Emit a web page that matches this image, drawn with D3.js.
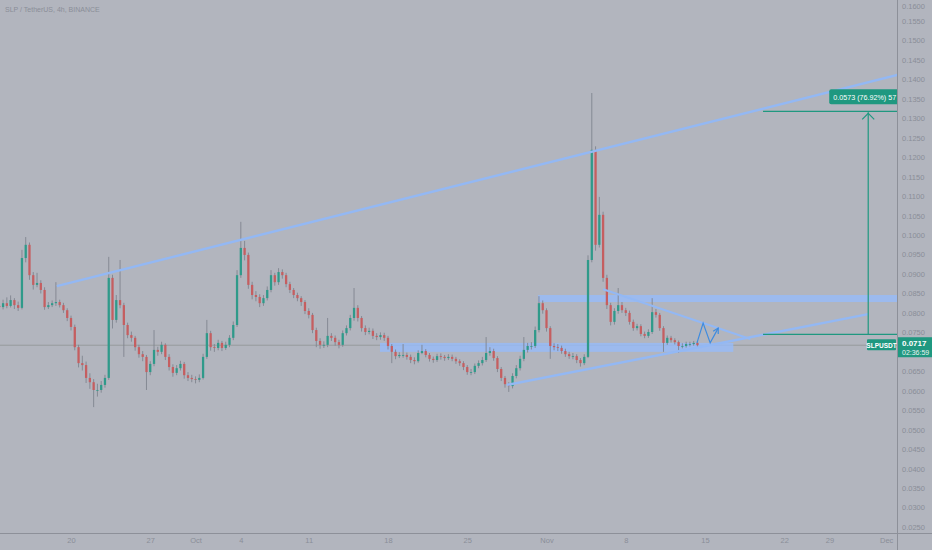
<!DOCTYPE html>
<html><head><meta charset="utf-8">
<script src="https://cdn.jsdelivr.net/npm/d3@7"></script>
<style>
html,body{margin:0;padding:0;background:#b2b5be;overflow:hidden;}
svg{display:block;font-family:"Liberation Sans",Arial,sans-serif;}
</style>
</head><body>
<svg id="chart" width="932" height="550"></svg>
<script>
// ---------- DATA ----------
const title = "SLP / TetherUS, 4h, BINANCE";
const symbol = "SLPUSDT";
const startTime = "2021-09-13T16:00:00Z";
const barHours = 8;

const opens = [0.0818,0.0815,0.0825,0.0818,0.0833,0.0820,0.0813,0.0941,0.0975,0.0897,
0.0872,0.0877,0.0859,0.0815,0.0820,0.0825,0.0828,0.0820,0.0807,0.0787,
0.0764,0.0712,0.0671,0.0666,0.0633,0.0622,0.0602,0.0602,0.0615,0.0633,
0.0890,0.0782,0.0833,0.0820,0.0769,0.0743,0.0736,0.0712,0.0694,0.0687,
0.0648,0.0669,0.0705,0.0700,0.0718,0.0687,0.0661,0.0646,0.0658,0.0669,
0.0640,0.0633,0.0630,0.0628,0.0633,0.0687,0.0748,0.0712,0.0710,0.0723,
0.0710,0.0718,0.0736,0.0769,0.0897,0.0967,0.0949,0.0872,0.0846,0.0841,
0.0825,0.0838,0.0859,0.0897,0.0879,0.0905,0.0897,0.0874,0.0859,0.0846,
0.0838,0.0828,0.0805,0.0795,0.0756,0.0728,0.0718,0.0718,0.0741,0.0736,
0.0725,0.0718,0.0748,0.0761,0.0787,0.0813,0.0787,0.0761,0.0751,0.0754,
0.0741,0.0738,0.0743,0.0736,0.0715,0.0700,0.0689,0.0692,0.0692,0.0687,
0.0679,0.0676,0.0697,0.0702,0.0692,0.0682,0.0679,0.0689,0.0687,0.0684,
0.0687,0.0682,0.0676,0.0671,0.0661,0.0648,0.0648,0.0664,0.0671,0.0679,
0.0697,0.0702,0.0684,0.0656,0.0633,0.0617,0.0612,0.0638,0.0658,0.0682,
0.0705,0.0715,0.0715,0.0756,0.0825,0.0807,0.0761,0.0715,0.0712,0.0710,
0.0702,0.0694,0.0689,0.0689,0.0679,0.0671,0.0687,0.0936,0.1219,0.0975,
0.1052,0.0890,0.0820,0.0777,0.0805,0.0820,0.0807,0.0800,0.0777,0.0761,
0.0766,0.0746,0.0741,0.0751,0.0802,0.0795,0.0761,0.0723,0.0736,0.0730,
0.0725,0.0715,0.0715,0.0720,0.0720,0.0723];

const highs = [0.0826,0.0834,0.0840,0.0845,0.0838,0.0829,0.0962,0.0995,0.0981,0.0905,
0.0903,0.0884,0.0866,0.0828,0.0832,0.0879,0.0834,0.0826,0.0812,0.0793,
0.0770,0.0718,0.0690,0.0675,0.0645,0.0630,0.0618,0.0625,0.0641,0.0944,
0.0898,0.0846,0.0936,0.0826,0.0775,0.0752,0.0741,0.0718,0.0702,0.0692,
0.0676,0.0756,0.0713,0.0726,0.0722,0.0694,0.0668,0.0666,0.0677,0.0674,
0.0648,0.0641,0.0637,0.0642,0.0695,0.0782,0.0754,0.0720,0.0731,0.0728,
0.0726,0.0743,0.0778,0.0910,0.1034,0.0985,0.0955,0.0880,0.0856,0.0848,
0.0846,0.0868,0.0910,0.0903,0.0915,0.0912,0.0903,0.0880,0.0864,0.0852,
0.0843,0.0833,0.0812,0.0800,0.0762,0.0735,0.0727,0.0787,0.0748,0.0742,
0.0731,0.0755,0.0768,0.0795,0.0864,0.0820,0.0792,0.0768,0.0762,0.0760,
0.0748,0.0750,0.0749,0.0741,0.0720,0.0706,0.0699,0.0720,0.0698,0.0693,
0.0686,0.0704,0.0718,0.0707,0.0697,0.0688,0.0695,0.0696,0.0692,0.0694,
0.0693,0.0687,0.0681,0.0676,0.0666,0.0656,0.0670,0.0678,0.0687,0.0738,
0.0712,0.0708,0.0689,0.0661,0.0638,0.0622,0.0645,0.0666,0.0690,0.0738,
0.0723,0.0725,0.0765,0.0843,0.0832,0.0812,0.0766,0.0722,0.0720,0.0716,
0.0708,0.0700,0.0697,0.0694,0.0684,0.0694,0.0948,0.1365,0.1228,0.1098,
0.1060,0.0898,0.0826,0.0812,0.0864,0.0828,0.0813,0.0806,0.0783,0.0772,
0.0771,0.0752,0.0758,0.0838,0.0810,0.0800,0.0766,0.0742,0.0741,0.0735,
0.0729,0.0722,0.0726,0.0726,0.0728,0.0727];

const lows = [0.0806,0.0809,0.0812,0.0814,0.0810,0.0805,0.0809,0.0930,0.0885,0.0860,
0.0866,0.0850,0.0808,0.0810,0.0815,0.0818,0.0814,0.0800,0.0779,0.0755,
0.0704,0.0660,0.0652,0.0620,0.0605,0.0558,0.0585,0.0595,0.0608,0.0628,
0.0760,0.0775,0.0812,0.0687,0.0735,0.0726,0.0703,0.0685,0.0676,0.0602,
0.0640,0.0663,0.0690,0.0694,0.0679,0.0652,0.0636,0.0640,0.0652,0.0631,
0.0625,0.0622,0.0619,0.0622,0.0629,0.0682,0.0703,0.0700,0.0704,0.0702,
0.0705,0.0712,0.0730,0.0764,0.0890,0.0935,0.0862,0.0835,0.0830,0.0815,
0.0818,0.0832,0.0853,0.0870,0.0872,0.0888,0.0866,0.0851,0.0838,0.0830,
0.0818,0.0797,0.0786,0.0748,0.0712,0.0708,0.0710,0.0712,0.0728,0.0716,
0.0709,0.0713,0.0742,0.0755,0.0780,0.0778,0.0752,0.0743,0.0745,0.0733,
0.0730,0.0731,0.0728,0.0706,0.0671,0.0681,0.0684,0.0685,0.0680,0.0671,
0.0668,0.0672,0.0694,0.0686,0.0675,0.0672,0.0674,0.0680,0.0677,0.0679,
0.0676,0.0669,0.0664,0.0653,0.0641,0.0640,0.0643,0.0658,0.0665,0.0674,
0.0690,0.0677,0.0648,0.0625,0.0608,0.0597,0.0606,0.0632,0.0652,0.0676,
0.0698,0.0706,0.0710,0.0750,0.0798,0.0752,0.0682,0.0704,0.0702,0.0695,
0.0687,0.0682,0.0681,0.0671,0.0662,0.0666,0.0684,0.0930,0.0960,0.0968,
0.0880,0.0810,0.0768,0.0770,0.0798,0.0800,0.0792,0.0770,0.0754,0.0755,
0.0740,0.0735,0.0736,0.0746,0.0788,0.0754,0.0700,0.0718,0.0724,0.0719,
0.0697,0.0709,0.0711,0.0714,0.0716,0.0712];

const closes = [0.0815,0.0825,0.0818,0.0833,0.0820,0.0813,0.0941,0.0975,0.0897,0.0872,
0.0877,0.0859,0.0815,0.0820,0.0825,0.0828,0.0820,0.0807,0.0787,0.0764,
0.0712,0.0671,0.0666,0.0633,0.0622,0.0602,0.0602,0.0615,0.0633,0.0890,
0.0782,0.0833,0.0820,0.0769,0.0743,0.0736,0.0712,0.0694,0.0687,0.0648,
0.0669,0.0705,0.0700,0.0718,0.0687,0.0661,0.0646,0.0658,0.0669,0.0640,
0.0633,0.0630,0.0628,0.0633,0.0687,0.0748,0.0712,0.0710,0.0723,0.0710,
0.0718,0.0736,0.0769,0.0897,0.0967,0.0949,0.0872,0.0846,0.0841,0.0825,
0.0838,0.0859,0.0897,0.0879,0.0905,0.0897,0.0874,0.0859,0.0846,0.0838,
0.0828,0.0805,0.0795,0.0756,0.0728,0.0718,0.0718,0.0741,0.0736,0.0725,
0.0718,0.0748,0.0761,0.0787,0.0813,0.0787,0.0761,0.0751,0.0754,0.0741,
0.0738,0.0743,0.0736,0.0715,0.0700,0.0689,0.0692,0.0692,0.0687,0.0679,
0.0676,0.0697,0.0702,0.0692,0.0682,0.0679,0.0689,0.0687,0.0684,0.0687,
0.0682,0.0676,0.0671,0.0661,0.0648,0.0648,0.0664,0.0671,0.0679,0.0697,
0.0702,0.0684,0.0656,0.0633,0.0617,0.0612,0.0638,0.0658,0.0682,0.0705,
0.0715,0.0715,0.0756,0.0825,0.0807,0.0761,0.0715,0.0712,0.0710,0.0702,
0.0694,0.0689,0.0689,0.0679,0.0671,0.0687,0.0936,0.1219,0.0975,0.1052,
0.0890,0.0820,0.0777,0.0805,0.0820,0.0807,0.0800,0.0777,0.0761,0.0766,
0.0746,0.0741,0.0751,0.0802,0.0795,0.0761,0.0723,0.0736,0.0730,0.0725,
0.0715,0.0715,0.0720,0.0720,0.0723,0.0717];

const yTickValues = [0.0250,0.0300,0.0350,0.0400,0.0450,0.0500,0.0550,0.0600,0.0650,
0.0750,0.0800,0.0850,0.0900,0.0950,0.1000,0.1050,0.1100,0.1150,0.1200,
0.1250,0.1300,0.1350,0.1400,0.1450,0.1500,0.1550,0.1600];
const xTickDates = ["2021-09-20","2021-09-27","2021-10-01","2021-10-05","2021-10-11","2021-10-18",
"2021-10-25","2021-11-01","2021-11-08","2021-11-15","2021-11-22","2021-11-26","2021-12-01"];
const xTickLabels = ["20","27","Oct","4","11","18","25","Nov","8","15","22","29","Dec"];

// drawings (time, price)
const upperTrend = [["2021-09-18T18:00:00Z",0.0869],["2021-12-04T00:00:00Z",0.1426]];
const supportZoneTimes = ["2021-10-17T07:00:00Z","2021-11-17T12:00:00Z"];
const supportZonePrices = [0.0723,0.0700];
const resistZoneTimes = ["2021-10-31T06:00:00Z","2021-12-06T00:00:00Z"];
const resistZonePrices = [0.0846,0.0828];
const risingLine = [["2021-10-28T12:00:00Z",0.0615],["2021-11-29T10:00:00Z",0.0797]];
const fallingLine = [["2021-11-06T00:00:00Z",0.0861],["2021-11-19T00:00:00Z",0.0733]];
const projection = [["2021-11-14T07:00:00Z",0.0723],["2021-11-14T20:00:00Z",0.0774],
                    ["2021-11-15T11:00:00Z",0.0723],["2021-11-16T04:00:00Z",0.0761]];
const measureTimes = ["2021-11-20T03:00:00Z","2021-11-29T10:00:00Z","2021-12-06T00:00:00Z"];
const measurePrices = [0.0745,0.1318];
const measureLabel = "0.0573 (76.92%) 57";
const lastPrice = 0.0717;
const countdown = "02:36:59";

// ---------- LAYOUT ----------
const W = 932, H = 550;
const plotRight = 897, plotBottom = 533;
const colors = {
  bg:"#b2b5be", up:"#2f9a8a", down:"#c55e60", wick:"#80858f", text:"#8a8e98",
  axisLine:"#8d9099", blueLine:"#93b8f4", zone:"rgba(150,188,250,0.8)",
  proj:"#3d8be0", green:"#1f9880", priceLine:"#8f9596"
};

const svg = d3.select("#chart");
svg.append("rect").attr("width",W).attr("height",H).attr("fill",colors.bg);

const parse = s => new Date(s);
const x = d3.scaleUtc()
  .domain([parse("2021-09-20T00:00:00Z"), parse("2021-11-15T00:00:00Z")])
  .range([71, 705]);
const y = d3.scaleLinear().domain([0.025, 0.155]).range([527, 21]);

svg.append("defs").append("clipPath").attr("id","plot")
  .append("rect").attr("x",0).attr("y",0).attr("width",plotRight).attr("height",plotBottom);

const plot = svg.append("g").attr("clip-path","url(#plot)");

// title
svg.append("text").attr("x",5).attr("y",12).attr("font-size",7)
  .attr("fill",colors.text).text(title);

// last price line
plot.append("line").attr("x1",0).attr("x2",plotRight)
  .attr("y1",y(lastPrice)).attr("y2",y(lastPrice))
  .attr("stroke",colors.priceLine).attr("stroke-width",0.8);

// zones
plot.append("rect")
  .attr("x",x(parse(supportZoneTimes[0]))).attr("y",y(supportZonePrices[0]))
  .attr("width",x(parse(supportZoneTimes[1]))-x(parse(supportZoneTimes[0])))
  .attr("height",y(supportZonePrices[1])-y(supportZonePrices[0]))
  .attr("fill",colors.zone);
plot.append("rect")
  .attr("x",x(parse(resistZoneTimes[0]))).attr("y",y(resistZonePrices[0]))
  .attr("width",x(parse(resistZoneTimes[1]))-x(parse(resistZoneTimes[0])))
  .attr("height",y(resistZonePrices[1])-y(resistZonePrices[0]))
  .attr("fill",colors.zone);

// candles
const t0 = parse(startTime);
const bars = closes.map((c,i)=>({
  t: d3.utcHour.offset(t0, i*barHours), o: opens[i], h: highs[i], l: lows[i], c
}));
const step = x(d3.utcHour.offset(t0, barHours)) - x(t0);
const bw = Math.max(1.2, step*0.6);
const cg = plot.append("g");
cg.selectAll("line.w").data(bars).join("line").attr("class","w")
  .attr("x1",d=>x(d.t)).attr("x2",d=>x(d.t))
  .attr("y1",d=>y(d.h)).attr("y2",d=>y(d.l))
  .attr("stroke",colors.wick).attr("stroke-width",0.9);
cg.selectAll("rect.b").data(bars).join("rect").attr("class","b")
  .attr("x",d=>x(d.t)-bw/2).attr("width",bw)
  .attr("y",d=>y(Math.max(d.o,d.c)))
  .attr("height",d=>Math.max(0.8, Math.abs(y(d.o)-y(d.c))))
  .attr("fill",d=>d.c>=d.o?colors.up:colors.down);

// trend lines
const line = d3.line().x(d=>x(parse(d[0]))).y(d=>y(d[1]));
plot.append("path").attr("d",line(upperTrend)).attr("fill","none")
  .attr("stroke",colors.blueLine).attr("stroke-width",2.4);
plot.append("path").attr("d",line(risingLine)).attr("fill","none")
  .attr("stroke",colors.blueLine).attr("stroke-width",2.4);
plot.append("path").attr("d",line(fallingLine)).attr("fill","none")
  .attr("stroke",colors.blueLine).attr("stroke-width",2);

// projection zigzag
plot.append("path").attr("d",line(projection)).attr("fill","none")
  .attr("stroke",colors.proj).attr("stroke-width",1.2);
{
  const p1 = projection[projection.length-2], p2 = projection[projection.length-1];
  const ax = x(parse(p2[0])), ay = y(p2[1]);
  const ang = Math.atan2(ay - y(p1[1]), ax - x(parse(p1[0])));
  const L = 6;
  const a1 = [ax - L*Math.cos(ang-0.5), ay - L*Math.sin(ang-0.5)];
  const a2 = [ax - L*Math.cos(ang+0.5), ay - L*Math.sin(ang+0.5)];
  plot.append("path").attr("d",`M${a1}L${ax},${ay}L${a2}`).attr("fill","none")
    .attr("stroke",colors.proj).attr("stroke-width",1.2);
}

// measure tool
{
  const xa = x(parse(measureTimes[0])), xv = x(parse(measureTimes[1])), xe = x(parse(measureTimes[2]));
  const yb = y(measurePrices[0]), yt = y(measurePrices[1]);
  const g = plot.append("g").attr("stroke",colors.green).attr("stroke-width",1.2).attr("fill","none");
  g.append("line").attr("x1",xa).attr("x2",xe).attr("y1",yb).attr("y2",yb);
  g.append("line").attr("x1",xa).attr("x2",xe).attr("y1",yt).attr("y2",yt);
  g.append("line").attr("x1",xv).attr("x2",xv).attr("y1",yb).attr("y2",yt+1);
  g.append("path").attr("d",`M${xv-6},${yt+8}L${xv},${yt+2}L${xv+6},${yt+8}`);
  const bx = xv - 39, by = yt - 22;
  plot.append("rect").attr("x",bx).attr("y",by).attr("width",120).attr("height",15)
    .attr("rx",2).attr("fill",colors.green);
  plot.append("text").attr("x",bx+4).attr("y",by+11).attr("font-size",7.6)
    .attr("textLength",63).attr("lengthAdjust","spacingAndGlyphs")
    .attr("fill","#ffffff").text(measureLabel);
}

// symbol label on price line
{
  const yp = y(lastPrice);
  plot.append("rect").attr("x",867).attr("y",yp-6).attr("width",29).attr("height",11)
    .attr("rx",1).attr("fill",colors.green);
  plot.append("text").attr("x",881.5).attr("y",yp+2.5).attr("text-anchor","middle")
    .attr("font-size",6.5).attr("font-weight","bold").attr("fill","#fff").text(symbol);
}

// axes separators
svg.append("line").attr("x1",plotRight+0.5).attr("x2",plotRight+0.5).attr("y1",0).attr("y2",H)
  .attr("stroke",colors.axisLine).attr("stroke-width",1);
svg.append("line").attr("x1",0).attr("x2",W).attr("y1",plotBottom+0.5).attr("y2",plotBottom+0.5)
  .attr("stroke",colors.axisLine).attr("stroke-width",1);

// right axis
const yAxis = d3.axisRight(y).tickValues(yTickValues).tickSize(0).tickPadding(5)
  .tickFormat(d3.format(".4f"));
const ya = svg.append("g").attr("transform",`translate(${plotRight},0)`).call(yAxis);
ya.select(".domain").remove();
ya.selectAll("text").attr("font-size",7.5).attr("fill",colors.text)
  .attr("font-family","Liberation Sans, Arial, sans-serif");
// topmost label sits partly above the frame, nudge it inside
ya.selectAll(".tick").filter(d=>y(d)<5).select("text").attr("dy","0.9em");

// bottom axis
const xAxis = d3.axisBottom(x).tickValues(xTickDates.map(d=>parse(d+"T00:00:00Z")))
  .tickSize(0).tickPadding(5).tickFormat((d,i)=>xTickLabels[i]);
const xa = svg.append("g").attr("transform",`translate(0,${plotBottom})`).call(xAxis);
xa.select(".domain").remove();
xa.selectAll("text").attr("font-size",7.5).attr("fill",colors.text)
  .attr("font-family","Liberation Sans, Arial, sans-serif");

// price label on axis
{
  const yp = y(lastPrice);
  svg.append("rect").attr("x",plotRight+1).attr("y",yp-8).attr("width",W-plotRight-1).attr("height",20)
    .attr("fill",colors.green);
  svg.append("text").attr("x",plotRight+5).attr("y",yp+0.5).attr("font-size",8)
    .attr("font-weight","bold").attr("fill","#fff").text(d3.format(".4f")(lastPrice));
  svg.append("text").attr("x",plotRight+5).attr("y",yp+9.5).attr("font-size",7)
    .attr("fill","#e8f5f2").text(countdown);
}
</script>
</body></html>
